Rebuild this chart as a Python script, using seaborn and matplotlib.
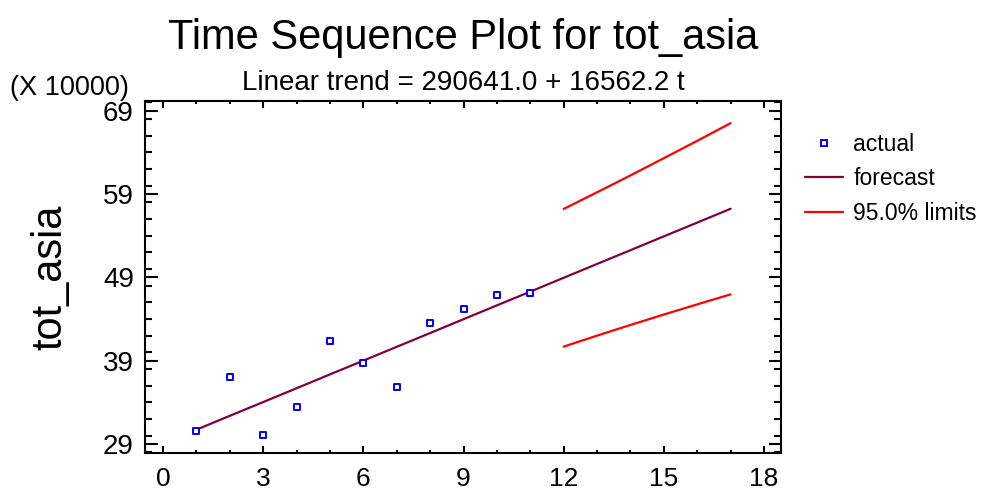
import matplotlib
matplotlib.use("Agg")
import matplotlib.pyplot as plt
from matplotlib.ticker import MultipleLocator
from matplotlib.lines import Line2D
import seaborn as sns
import pandas as pd

# Values in units of 10000
t_actual = [1, 2, 3, 4, 5, 6, 7, 8, 9, 10, 11]
actual = [30.52, 37.08, 30.04, 33.44, 41.37, 38.69, 35.84, 43.53, 45.20, 46.92, 47.13]

t_forecast = [1, 2, 3, 4, 5, 6, 7, 8, 9, 10, 11, 12, 13, 14, 15, 16, 17]
forecast = [30.72, 32.38, 34.03, 35.69, 37.35, 39.00, 40.66, 42.31, 43.97,
            45.63, 47.28, 48.94, 50.60, 52.25, 53.91, 55.56, 57.22]

t_limits = [12, 13, 14, 15, 16, 17]
upper = [57.20, 59.20, 61.22, 63.29, 65.37, 67.49]
lower = [40.68, 42.00, 43.28, 44.53, 45.75, 46.95]

x_ticks = [0, 3, 6, 9, 12, 15, 18]
y_ticks = [29, 39, 49, 59, 69]

sns.set_style("white")
plt.rcParams["font.family"] = ["Liberation Sans", "DejaVu Sans"]
plt.rcParams["text.color"] = "black"
plt.rcParams["xtick.color"] = "black"
plt.rcParams["ytick.color"] = "black"

fig = plt.figure(figsize=(10.08, 4.93), dpi=100)
W, H = 1008, 493
left, right, top, bottom = 145, 781, 101, 453
ax = fig.add_axes([left / W, 1 - bottom / H, (right - left) / W, (bottom - top) / H])

blue = "#0000FF"
maroon = "#800040"
red = "#FF0000"

df_a = pd.DataFrame({"t": t_actual, "v": actual})
df_f = pd.DataFrame({"t": t_forecast, "v": forecast})
df_u = pd.DataFrame({"t": t_limits, "v": upper})
df_l = pd.DataFrame({"t": t_limits, "v": lower})

sns.lineplot(data=df_f, x="t", y="v", ax=ax, color=maroon, lw=1.6, zorder=2)
sns.lineplot(data=df_u, x="t", y="v", ax=ax, color=red, lw=1.6, zorder=2)
sns.lineplot(data=df_l, x="t", y="v", ax=ax, color=red, lw=1.6, zorder=2)
sns.scatterplot(data=df_a, x="t", y="v", ax=ax, marker="s", s=18,
                facecolor="white", edgecolor=blue, linewidth=1.4, zorder=3)

ax.set_xlim(-0.54, 18.51)
ax.set_ylim(27.92, 70.15)
ax.set_xticks(x_ticks)
ax.set_yticks(y_ticks)
ax.xaxis.set_minor_locator(MultipleLocator(1))
ax.yaxis.set_minor_locator(MultipleLocator(2))
ax.set_xlabel("")
ax.set_ylabel("")

for s in ax.spines.values():
    s.set_visible(True)
    s.set_linewidth(1.5)
    s.set_color("black")

ax.tick_params(axis="both", which="both", direction="in",
               top=True, right=True, bottom=True, left=True,
               width=1.5, color="black", labelcolor="black", labelsize=19)
ax.tick_params(axis="y", which="major", length=9, pad=8, labelsize=20)
ax.tick_params(axis="y", which="minor", length=5)
ax.tick_params(axis="x", which="major", length=5, pad=10)
ax.tick_params(axis="x", which="minor", length=2.5)

cx = (left + right) / 2 / W
fig.text(cx, 1 - 49 / H, "Time Sequence Plot for tot_asia",
         ha="center", va="baseline", fontsize=30)
fig.text(cx, 1 - 90 / H, "Linear trend = 290641.0 + 16562.2 t",
         ha="center", va="baseline", fontsize=20)
fig.text(10 / W, 1 - 95 / H, "(X 10000)", ha="left", va="baseline", fontsize=19.5)
fig.text(50 / W, 1 - 277 / H, "tot_asia", rotation=90,
         ha="center", va="center", fontsize=30)

handles = [
    Line2D([], [], ls="none", marker="s", ms=4.5, mfc="white", mec=blue, mew=1.4),
    Line2D([], [], color=maroon, lw=1.6),
    Line2D([], [], color=red, lw=1.6),
]
fig.legend(handles, ["actual", "forecast", "95.0% limits"],
           loc="upper left", bbox_to_anchor=(805 / W, 1 - 133 / H),
           frameon=False, fontsize=16.5, handlelength=1.65, handletextpad=0.45,
           labelspacing=0.5, borderpad=0, borderaxespad=0)

fig.savefig("out.png", dpi=100)
